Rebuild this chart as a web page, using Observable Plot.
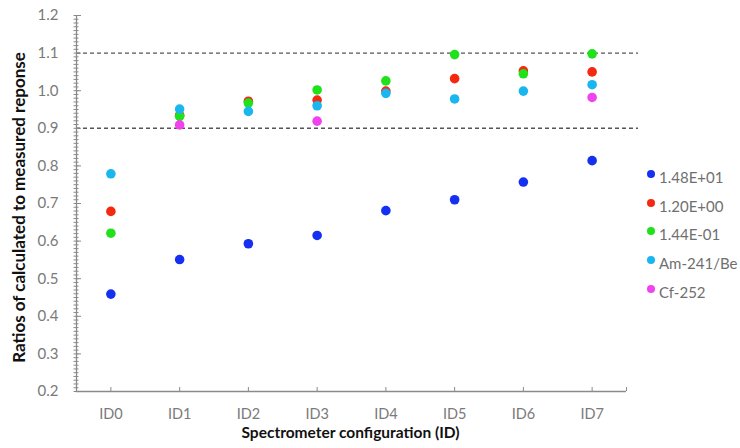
<!DOCTYPE html>
<html>
<head>
<meta charset="utf-8">
<script src="https://cdn.jsdelivr.net/npm/d3@7"></script>
<script src="https://cdn.jsdelivr.net/npm/@observablehq/plot@0.6"></script>
<style>
  body { margin: 0; background: #fff; }
  #wrap { position: relative; width: 740px; height: 448px; font-family: Lato, "Open Sans", sans-serif; }
  #legend { position: absolute; left: 647px; top: 163px; font-size: 15px; color: #6f6f6f; }
  #legend .row { height: 28.6px; display: flex; align-items: center; white-space: nowrap; }
  #legend .sw { width: 8px; height: 8px; border-radius: 50%; margin-right: 4px; margin-top: -6px; }
</style>
</head>
<body>
<div id="wrap"><div id="legend"></div></div>
<script>
const IDS = ["ID0", "ID1", "ID2", "ID3", "ID4", "ID5", "ID6", "ID7"];
const SERIES = ["1.48E+01", "1.20E+00", "1.44E-01", "Am-241/Be", "Cf-252"];
const COLORS = ["#1530f0", "#f5290f", "#1fe21a", "#19b6f0", "#f043ee"];
const s148 = [0.459, 0.551, 0.593, 0.615, 0.681, 0.710, 0.757, 0.814];
const s120 = [0.679, 0.935, 0.972, 0.975, 0.999, 1.032, 1.053, 1.050];
const s144 = [0.621, 0.932, 0.967, 1.002, 1.026, 1.096, 1.045, 1.098];
const sAmBe = [0.779, 0.951, 0.945, 0.960, 0.993, 0.978, 0.999, 1.016];
const sCf = [null, 0.909, null, 0.919, null, null, null, 0.982];
const Y_TICKS = [0.2, 0.3, 0.4, 0.5, 0.6, 0.7, 0.8, 0.9, 1.0, 1.1, 1.2];
const REF_LINES = [0.9, 1.1];
const Y_LABEL = "Ratios of calculated to measured reponse";
const X_LABEL = "Spectrometer configuration (ID)";

const seriesValues = [s148, s120, s144, sAmBe, sCf];
const data = [];
seriesValues.forEach((vals, si) => vals.forEach((v, i) => {
  if (v != null) data.push({series: SERIES[si], id: IDS[i], v});
}));
const minorTicks = d3.range(20, 121).map(d => d / 100);
const xIndex = IDS.map((d, i) => i);
const gray = "#8a8a8a";

const chart = Plot.plot({
  width: 740,
  height: 448,
  marginLeft: 76,
  marginRight: 102,
  marginTop: 15,
  marginBottom: 57,
  style: {fontFamily: "Lato, 'Open Sans', sans-serif", background: "#fff"},
  x: {domain: [-0.5, IDS.length - 0.5], range: [76, 626]},
  y: {domain: [0.2, 1.2]},
  color: {domain: SERIES, range: COLORS},
  marks: [
    Plot.ruleY(REF_LINES, {stroke: "#555", strokeDasharray: "4,3", strokeWidth: 1.4}),
    Plot.ruleY([0.2], {x1: -0.5, x2: IDS.length - 0.5, stroke: gray, strokeWidth: 1.3}),
    Plot.ruleX([-0.5], {stroke: gray, strokeWidth: 1.3}),
    Plot.axisY({ticks: minorTicks, tickSize: 2.5, text: null, stroke: gray, label: null}),
    Plot.axisY({ticks: minorTicks, tickSize: -2.5, text: null, stroke: gray, label: null}),
    Plot.axisY({ticks: Y_TICKS, tickSize: -5, text: null, stroke: gray, label: null}),
    Plot.axisY({ticks: Y_TICKS, tickSize: 0, tickPadding: 18, tickFormat: d3.format(".1f"), fontSize: 15, fill: "#7a7a7a", label: null}),
    Plot.axisX({ticks: [...xIndex, IDS.length - 0.5], tickSize: -4, text: null, stroke: gray, label: null}),
    Plot.axisX({ticks: xIndex, tickSize: 0, tickPadding: 17, tickFormat: i => IDS[i], fontSize: 14.5, fill: "#7a7a7a", label: null}),
    Plot.text([Y_LABEL], {text: d => d, frameAnchor: "left", textAnchor: "middle", rotate: -90, dx: -57, dy: 4, fontSize: 17, fontWeight: "bold", fill: "#111"}),
    Plot.text([X_LABEL], {text: d => d, frameAnchor: "bottom", textAnchor: "middle", dx: -7, dy: 46, fontSize: 15.5, fontWeight: "bold", fill: "#111"}),
    Plot.dot(data, {x: d => IDS.indexOf(d.id), y: "v", fill: "series", r: 4.8})
  ]
});
document.getElementById("wrap").prepend(chart);

const legend = d3.select("#legend");
SERIES.forEach((s, i) => {
  const row = legend.append("div").attr("class", "row");
  row.append("span").attr("class", "sw").style("background", COLORS[i]);
  row.append("span").text(s);
});
</script>
</body>
</html>
